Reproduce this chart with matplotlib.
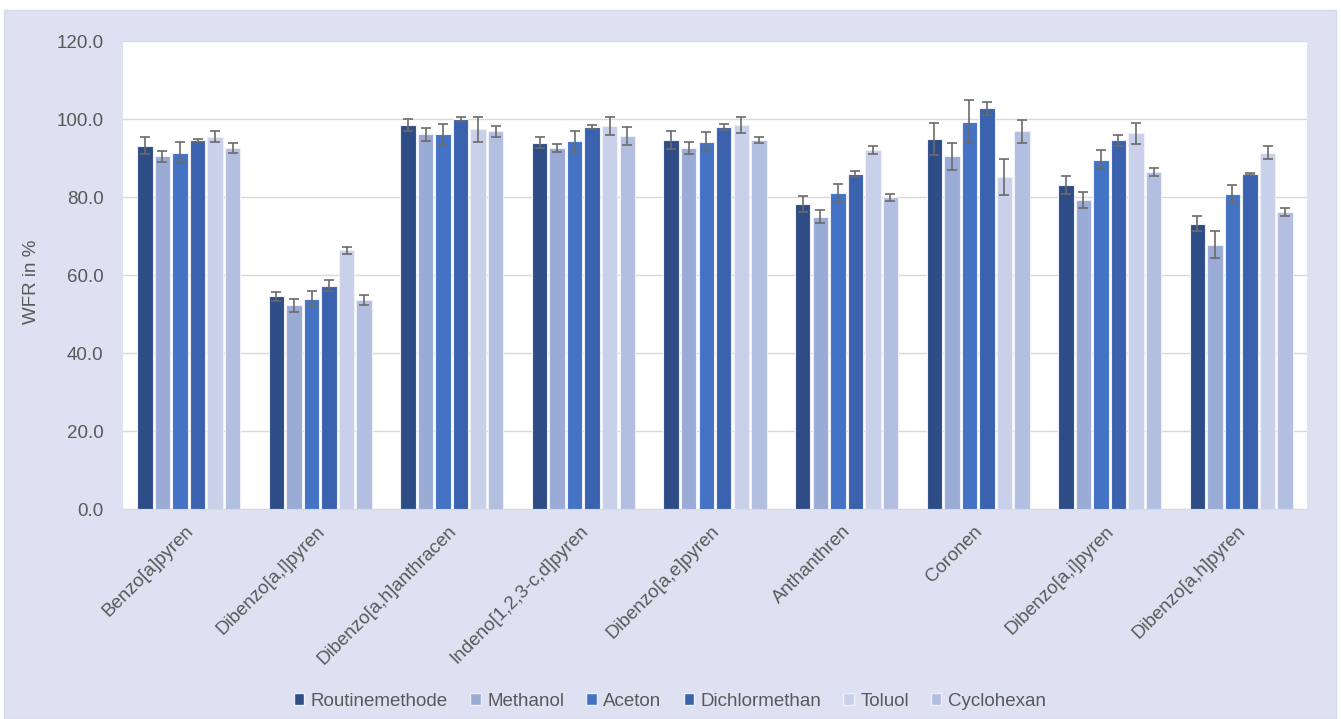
import numpy as np
import matplotlib.pyplot as plt
import matplotlib.transforms as mtransforms
from matplotlib.patches import Rectangle, Patch

plt.rcParams['font.family'] = ['Liberation Sans', 'DejaVu Sans']

# categories and series
categories = ['Benzo[a]pyren', 'Dibenzo[a,l]pyren', 'Dibenzo[a,h]anthracen',
              'Indeno[1,2,3-c,d]pyren', 'Dibenzo[a,e]pyren', 'Anthanthren',
              'Coronen', 'Dibenzo[a,i]pyren', 'Dibenzo[a,h]pyren']
series = ['Routinemethode', 'Methanol', 'Aceton', 'Dichlormethan', 'Toluol', 'Cyclohexan']

routine = [93.1, 54.5, 98.5, 93.9, 94.6, 78.2, 94.8, 83.0, 73.2]
routine_err = [2.2, 1.15, 1.55, 1.45, 2.3, 2.1, 4.1, 2.3, 1.9]
methanol = [90.5, 52.2, 96.1, 92.5, 92.5, 75.0, 90.4, 79.2, 67.8]
methanol_err = [1.4, 1.75, 1.7, 1.0, 1.6, 1.55, 3.4, 2.1, 3.5]
aceton = [91.3, 53.9, 96.2, 94.3, 94.2, 81.1, 99.3, 89.6, 80.8]
aceton_err = [2.7, 2.0, 2.5, 2.65, 2.5, 2.35, 5.5, 2.5, 2.3]
dichlor = [94.6, 57.2, 100.0, 98.0, 97.9, 85.9, 102.7, 94.5, 86.0]
dichlor_err = [0.4, 1.4, 0.6, 0.5, 0.8, 0.8, 1.7, 1.3, 0.25]
toluol = [95.4, 66.3, 97.4, 98.2, 98.5, 92.1, 85.1, 96.3, 91.4]
toluol_err = [1.4, 0.95, 3.2, 2.2, 2.05, 1.0, 4.7, 2.8, 1.55]
cyclo = [92.6, 53.6, 96.9, 95.6, 94.6, 79.9, 96.8, 86.4, 76.1]
cyclo_err = [1.3, 1.3, 1.4, 2.3, 0.85, 0.8, 3.0, 1.1, 1.0]

values = [routine, methanol, aceton, dichlor, toluol, cyclo]
errors = [routine_err, methanol_err, aceton_err, dichlor_err, toluol_err, cyclo_err]
colors = ['#2E4D87', '#9AABD6', '#4472C4', '#3A62AE', '#C9D0E9', '#B3BFE0']

bg = '#DEE1F2'
txt = '#595959'
fs = 13.5

fig = plt.figure(figsize=(13.41, 7.19), dpi=100)
fig.patch.set_facecolor('white')
fig.patches.append(Rectangle((4 / 1341, 0), 1332 / 1341, 709 / 719,
                             transform=fig.transFigure, facecolor=bg,
                             edgecolor='#D6D9EA', linewidth=1, zorder=-10))

ax = fig.add_axes([123 / 1341, 1 - 509 / 719, 1184 / 1341, 468 / 719])
ax.set_facecolor('white')

x = np.arange(len(categories))
slot = 0.8 / len(series)
for i, (vals, errs, col) in enumerate(zip(values, errors, colors)):
    pos = x - 0.4 + slot * (i + 0.5)
    ax.bar(pos, vals, width=slot * 0.88, color=col, edgecolor='#EEF0F8',
           linewidth=0.8, label=series[i], zorder=3)
    ax.errorbar(pos, vals, yerr=errs, fmt='none', ecolor='#6B6B6B',
                elinewidth=1.2, capsize=3.5, capthick=1.2, zorder=4)

ax.set_xlim(-0.5, len(categories) - 0.5)
ax.set_ylim(0, 120)
ax.set_yticks(np.arange(0, 121, 20))
ax.set_yticklabels(['%.1f' % v for v in np.arange(0, 121, 20)])
ax.yaxis.grid(True, color='#D9D9D9', linewidth=1, zorder=0)
ax.set_axisbelow(True)
for s in ['top', 'right', 'left']:
    ax.spines[s].set_visible(False)
ax.spines['bottom'].set_color('#D9D9D9')
ax.tick_params(axis='y', length=0, pad=14, labelsize=fs, labelcolor=txt)
ax.tick_params(axis='x', length=0, pad=10, labelsize=fs, labelcolor=txt)
ax.set_xticks(x)
ax.set_xticklabels(categories, rotation=45, ha='right', rotation_mode='anchor')
# nudge category labels slightly left like the original
shift = mtransforms.ScaledTranslation(-4 / 100, 0, fig.dpi_scale_trans)
for lbl in ax.get_xticklabels():
    lbl.set_transform(lbl.get_transform() + shift)
ax.set_ylabel('WFR in %', fontsize=fs, color=txt)
ax.yaxis.set_label_coords(-83 / 1184, 0.485)

handles = [Patch(facecolor=c, edgecolor='#EEF0F8', label=s) for c, s in zip(colors, series)]
fig.legend(handles=handles, loc='center', bbox_to_anchor=(670 / 1341, 1 - 701 / 719),
           ncol=6, frameon=False, fontsize=fs, labelcolor=txt,
           handlelength=0.55, handleheight=0.55, handletextpad=0.35,
           columnspacing=1.18)

fig.savefig('out.png', dpi=100, facecolor=fig.get_facecolor())
